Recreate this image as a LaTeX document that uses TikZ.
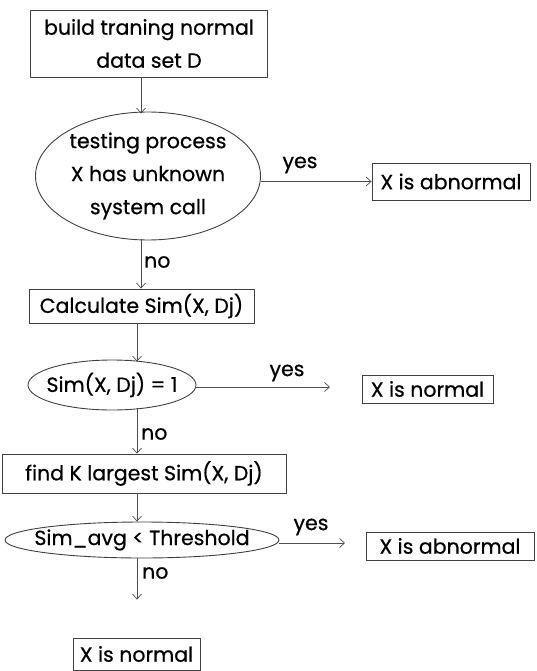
\documentclass[tikz,border=0pt]{standalone}
\usepackage{fontspec}
\setmainfont{Poppins}[FakeBold=0.6]
\usetikzlibrary{shapes.geometric,arrows.meta,calc}
\begin{document}
\begin{tikzpicture}[x=1pt,y=1pt,
  every node/.style={font=\fontsize{20.5}{33}\selectfont, text=black},
  box/.style={draw=black!75, line width=0.9pt, inner sep=0pt, align=center},
  oval/.style={ellipse, draw=black!75, line width=0.9pt, inner sep=0pt},
  txt/.style={align=center, inner sep=0pt},
  arr/.style={draw=black!70, line width=0.7pt, -{Straight Barb[length=5pt,width=9pt]}},
  lbl/.style={inner sep=1pt}]
\useasboundingbox (0,0) rectangle (536,-671);
% nodes
\node[box, minimum width=237, minimum height=67] (b1) at (149,-43.5) {build traning normal\\data set D};
\node[oval, minimum width=225, minimum height=128] (e1) at (148,-176) {};
\node[txt] (e1t) at (e1) {testing process\\X has unknown\\system call};
\node[box, minimum width=158, minimum height=37] (abn1) at (451,-181.5) {X is abnormal};
\node[box, minimum width=225, minimum height=34] (calc) at (141.5,-306) {Calculate Sim(X, Dj)};
\node[oval, minimum width=168, minimum height=50] (e2) at (112,-385) {};
\node[txt] (e2t) at (e2) {Sim(X, Dj) = 1};
\node[box, minimum width=131, minimum height=28] (norm1) at (427.5,-389) {X is normal};
\node[box, minimum width=284, minimum height=39] (findk) at (144,-473.5) {find K largest Sim(X, Dj)};
\node[oval, minimum width=274, minimum height=36] (e3) at (142,-540) {};
\node[txt] (e3t) at (e3) {Sim\_avg < Threshold};
\node[box, minimum width=168, minimum height=28] (abn2) at (450,-546) {X is abnormal};
\node[box, minimum width=127, minimum height=32] (norm2) at (136.5,-654) {X is normal};
% column coordinates
\coordinate (c1) at (141,0);
\coordinate (c2) at (137,0);
\coordinate (y2end) at (330,-387);
\coordinate (y3end) at (345,-543);
% connectors
\draw[arr] (b1.south -| c1) -- ($(e1.north -| c1)+(0,-2)$);
\draw[arr] (e1.east |- abn1.west) -- (abn1.west);
\node[lbl] (yes1) at (300,-165) {yes};
\draw[arr] ($(e1.south -| c1)+(0,1)$) -- (calc.north -| c1);
\node[lbl, anchor=west] (no1) at (143,-262) {no};
\draw[arr] (calc.south -| c2) -- ($(e2.north -| c2)+(0,-2)$);
\draw[arr] (e2.east |- y2end) -- (y2end);
\node[lbl] (yes2) at (287,-373) {yes};
\draw[arr] ($(e2.south -| c2)+(0,2)$) -- (findk.north -| c2);
\node[lbl, anchor=west] (no2) at (140,-434) {no};
\draw[arr] (findk.south -| c2) -- (e3.north -| c2);
\draw[arr] (e3.east |- y3end) -- (y3end);
\node[lbl] (yes3) at (311,-527) {yes};
\draw[arr] (e3.south -| c2) -- ($(norm2.north -| c2)+(0,38)$);
\node[lbl, anchor=west] (no3) at (141,-573) {no};
\end{tikzpicture}
\end{document}
